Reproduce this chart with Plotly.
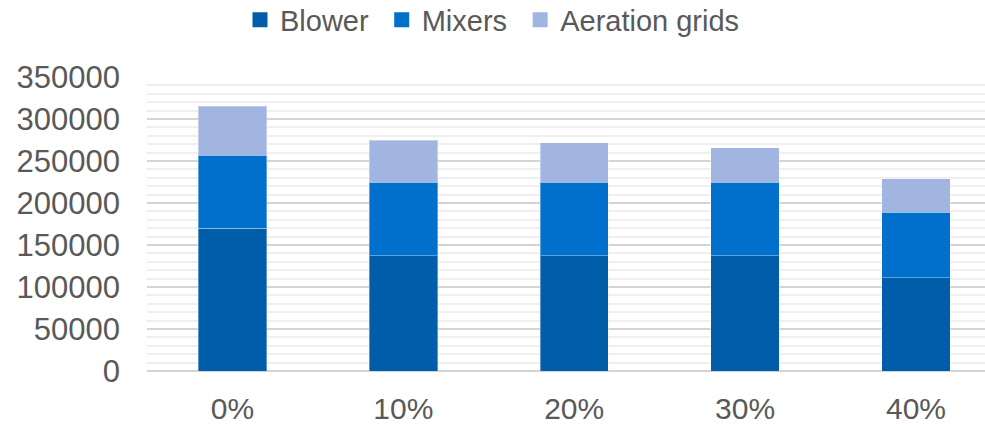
import plotly.graph_objects as go

categories = ["0%", "10%", "20%", "30%", "40%"]
blower = [170000, 137500, 137500, 137500, 111000]
mixers = [87000, 87500, 87500, 87500, 78000]
aeration_grids = [58000, 50000, 47000, 41000, 40000]

series = [
    ("Blower", blower, "#005DAA"),
    ("Mixers", mixers, "#0070CC"),
    ("Aeration grids", aeration_grids, "#A2B4E0"),
]

fig = go.Figure()
for name, values, color in series:
    fig.add_trace(go.Bar(
        x=categories,
        y=values,
        name=name,
        legendgroup=name,
        showlegend=False,
        marker=dict(color=color, line=dict(color="rgba(255,255,255,0.35)", width=1)),
        width=0.4,
    ))

# Larger square legend keys; a trailing no-break space widens the gap between entries
for i, (name, values, color) in enumerate(series):
    label = name + ("\u00a0" if i < len(series) - 1 else "")
    fig.add_trace(go.Scatter(
        x=[None],
        y=[None],
        name=label,
        legendgroup=name,
        mode="markers",
        marker=dict(symbol="square", size=15, color=color),
        showlegend=True,
    ))

font_family = "Liberation Sans, Arial, sans-serif"

fig.update_layout(
    barmode="stack",
    width=985,
    height=425,
    margin=dict(l=147, r=0, t=77, b=52),
    paper_bgcolor="white",
    plot_bgcolor="white",
    font=dict(family=font_family, color="#595959", size=30),
    showlegend=True,
    legend=dict(
        orientation="h",
        xref="container",
        yref="container",
        x=0.5,
        y=0.953,
        xanchor="center",
        yanchor="middle",
        font=dict(size=29, color="#595959"),
        traceorder="normal",
        itemsizing="trace",
    ),
    xaxis=dict(
        range=[-0.5, 4.404],
        showgrid=False,
        zeroline=False,
        showline=False,
        ticks="",
        tickfont=dict(size=30, color="#595959"),
        ticklabelstandoff=17,
    ),
    yaxis=dict(
        range=[0, 350000],
        dtick=50000,
        tickformat="d",
        showgrid=True,
        gridcolor="#D4D4D4",
        gridwidth=1.5,
        zeroline=True,
        zerolinecolor="#D4D4D4",
        zerolinewidth=1.5,
        ticks="",
        tickfont=dict(size=31, color="#595959"),
        ticklabelstandoff=26,
        minor=dict(dtick=10000, showgrid=True, gridcolor="#EFEFEF", gridwidth=1.5),
    ),
)

fig.write_html("out.html")
